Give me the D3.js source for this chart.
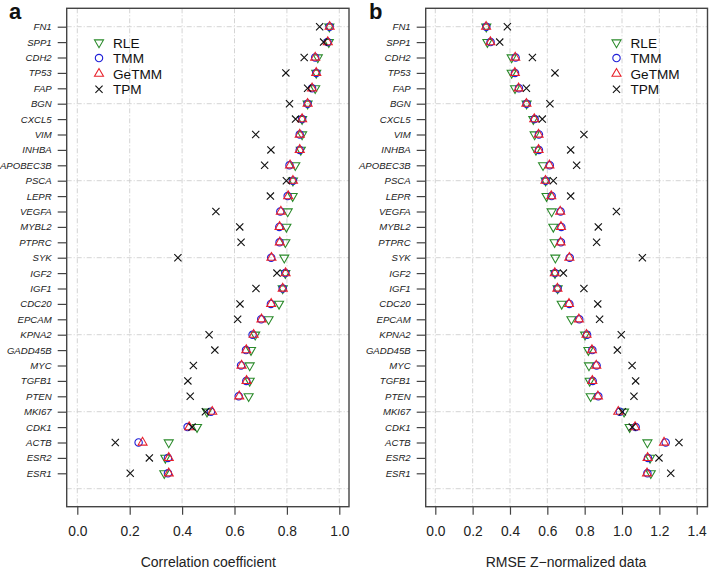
<!DOCTYPE html>
<html><head><meta charset="utf-8">
<script src="https://cdn.jsdelivr.net/npm/d3@7"></script>
<style>body{margin:0;background:#fff}svg{display:block}text{font-family:"Liberation Sans",Arial,sans-serif}</style>
</head><body>
<script>
const genes = ["FN1","SPP1","CDH2","TP53","FAP","BGN","CXCL5","VIM","INHBA","APOBEC3B","PSCA","LEPR","VEGFA","MYBL2","PTPRC","SYK","IGF2","IGF1","CDC20","EPCAM","KPNA2","GADD45B","MYC","TGFB1","PTEN","MKI67","CDK1","ACTB","ESR2","ESR1"];
const methods = ["RLE","TMM","GeTMM","TPM"];

const corrRLE   = [0.962,0.960,0.918,0.912,0.908,0.879,0.858,0.858,0.853,0.832,0.823,0.822,0.803,0.798,0.794,0.790,0.794,0.784,0.770,0.730,0.679,0.663,0.658,0.658,0.654,0.495,0.457,0.349,0.336,0.332];
const corrTMM   = [0.963,0.955,0.908,0.912,0.896,0.879,0.858,0.849,0.849,0.810,0.823,0.803,0.775,0.771,0.772,0.740,0.794,0.784,0.739,0.702,0.669,0.644,0.625,0.645,0.616,0.510,0.421,0.234,0.346,0.346];
const corrGeTMM = [0.963,0.956,0.908,0.912,0.896,0.879,0.858,0.849,0.849,0.812,0.823,0.805,0.777,0.772,0.773,0.741,0.795,0.784,0.740,0.703,0.673,0.645,0.627,0.646,0.618,0.515,0.427,0.249,0.349,0.349];
const corrTPM   = [0.925,0.940,0.866,0.796,0.879,0.810,0.833,0.681,0.739,0.715,0.798,0.737,0.529,0.620,0.625,0.384,0.762,0.682,0.621,0.612,0.503,0.525,0.443,0.422,0.431,0.489,0.438,0.145,0.275,0.202];

const rmseRLE   = [0.273,0.279,0.409,0.409,0.427,0.489,0.525,0.532,0.539,0.577,0.591,0.596,0.623,0.632,0.639,0.643,0.641,0.655,0.677,0.729,0.802,0.820,0.823,0.827,0.832,1.011,1.041,1.136,1.150,1.154];
const rmseTMM   = [0.273,0.296,0.430,0.427,0.448,0.489,0.532,0.555,0.555,0.613,0.591,0.623,0.671,0.675,0.673,0.720,0.641,0.655,0.718,0.771,0.813,0.841,0.864,0.843,0.873,0.988,1.073,1.234,1.139,1.136];
const rmseGeTMM = [0.272,0.295,0.428,0.426,0.446,0.488,0.530,0.553,0.553,0.611,0.590,0.621,0.669,0.673,0.671,0.718,0.640,0.654,0.716,0.769,0.810,0.839,0.862,0.841,0.871,0.980,1.070,1.225,1.137,1.134];
const rmseTPM   = [0.386,0.345,0.520,0.641,0.488,0.614,0.573,0.796,0.725,0.757,0.632,0.725,0.970,0.873,0.864,1.109,0.686,0.796,0.870,0.880,0.996,0.975,1.054,1.073,1.064,1.002,1.055,1.305,1.198,1.261];

const ticksA = [0,0.2,0.4,0.6,0.8,1.0];
const ticksB = [0,0.2,0.4,0.6,0.8,1.0,1.2,1.4];

const W = 709, H = 572;
const svg = d3.select("body").append("svg").attr("width", W).attr("height", H);

const colors = {RLE:"#2a8a2a", TMM:"#2020d8", GeTMM:"#e8202a", TPM:"#111"};

function symPath(m){
  if(m==="RLE") return "M-4.5,-2.6L4.5,-2.6L0,5.2Z";
  if(m==="GeTMM") return "M-4.5,2.6L4.5,2.6L0,-5.2Z";
  if(m==="TMM") return d3.symbol(d3.symbolCircle, Math.PI*3.7*3.7)();
  return "M-3.6,-3.6L3.6,3.6M-3.6,3.6L3.6,-3.6";
}

const yRow = d3.scaleLinear().domain([0,30]).range([26.7, 488.7]);
const boxTop = 8.3, boxBot = 506.7;

function panel(opts){
  const g = svg.append("g");
  const x = d3.scaleLinear().domain([0, opts.tickMax]).range([opts.x0, opts.x1]);
  const grid = g.append("g").attr("stroke","#cfcfcf").attr("stroke-width",0.9).attr("stroke-dasharray","5,2,1,2");
  opts.ticks.forEach(t=>{
    grid.append("line").attr("x1",x(t)).attr("x2",x(t)).attr("y1",boxTop).attr("y2",boxBot);
  });
  [0,5,10,15,20,25,30].forEach(i=>{
    grid.append("line").attr("x1",opts.boxL).attr("x2",opts.boxR).attr("y1",yRow(i)).attr("y2",yRow(i));
  });
  const series = opts.series;
  methods.forEach(m=>{
    g.append("g").selectAll("path").data(series[m]).join("path")
      .attr("transform",(d,i)=>`translate(${x(d)},${yRow(i)})`)
      .attr("d", symPath(m))
      .attr("fill","none").attr("stroke",colors[m]).attr("stroke-width",1.1);
  });
  g.append("rect").attr("x",opts.boxL).attr("y",boxTop).attr("width",opts.boxR-opts.boxL).attr("height",boxBot-boxTop)
    .attr("fill","none").attr("stroke","#444").attr("stroke-width",1.4);
  const xa = d3.axisBottom(x).tickValues(opts.ticks).tickFormat(d3.format(".1f")).tickSize(8).tickPadding(12);
  const ax = g.append("g").attr("transform",`translate(0,${boxBot})`).call(xa);
  ax.select(".domain").remove();
  ax.selectAll("line").attr("stroke","#444").attr("stroke-width",1.2);
  ax.selectAll("text").attr("font-size",13.8).attr("fill","#222").attr("font-family","Liberation Sans, Arial, sans-serif");
  const yScale = d3.scalePoint().domain(genes).range([yRow(0), yRow(29)]);
  const ya = d3.axisLeft(yScale).tickSize(9).tickPadding(6);
  const ay = g.append("g").attr("transform",`translate(${opts.boxL},0)`).call(ya);
  ay.select(".domain").remove();
  ay.selectAll("line").attr("stroke","#444").attr("stroke-width",1.2);
  ay.selectAll("text").attr("font-size",9.6).attr("font-style","italic").attr("fill","#222").attr("font-family","Liberation Sans, Arial, sans-serif");
  g.append("text").attr("x",(opts.x0+opts.x1)/2).attr("y",567).attr("text-anchor","middle")
    .attr("font-size",14).attr("fill","#222").text(opts.title);
  g.append("text").attr("x",opts.letterX).attr("y",19).attr("font-size",22).attr("font-weight","bold").attr("fill","#111").text(opts.letter);
  const lg = g.append("g");
  methods.forEach((m,i)=>{
    const ly = 42.5 + i*15.6;
    lg.append("path").attr("transform",`translate(${opts.legX},${ly})`).attr("d",symPath(m))
      .attr("fill","none").attr("stroke",colors[m]).attr("stroke-width",1.1);
    lg.append("text").attr("x",opts.legX+14).attr("y",ly+5).attr("font-size",13.6).attr("fill","#111").text(m);
  });
}

panel({x0:77.3, x1:339.3, tickMax:1.0, boxL:66.7, boxR:349, ticks:ticksA,
  series:{RLE:corrRLE, TMM:corrTMM, GeTMM:corrGeTMM, TPM:corrTPM},
  title:"Correlation coefficient", letter:"a", letterX:9, legX:99});
panel({x0:435.3, x1:696.7, tickMax:1.4, boxL:425.7, boxR:707.5, ticks:ticksB,
  series:{RLE:rmseRLE, TMM:rmseTMM, GeTMM:rmseGeTMM, TPM:rmseTPM},
  title:"RMSE Z\u2212normalized data", letter:"b", letterX:369, legX:616.5});
</script>
</body></html>
